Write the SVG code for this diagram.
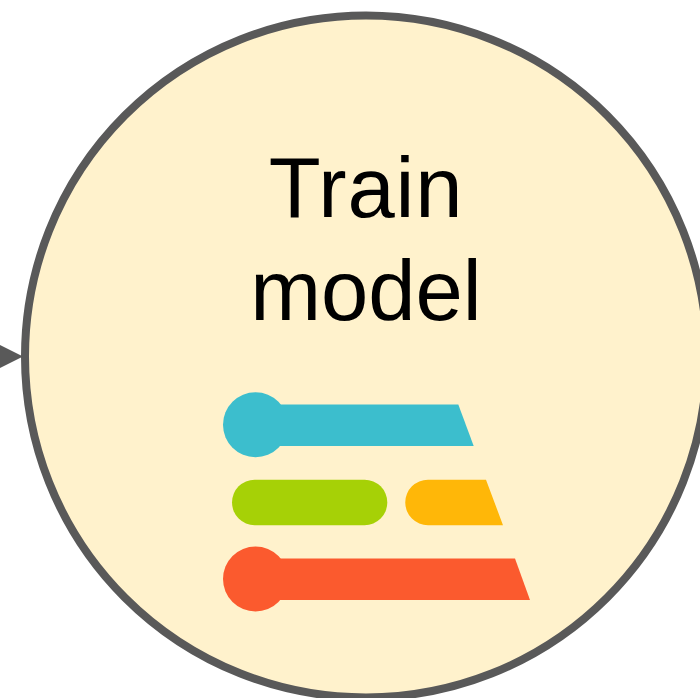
<svg xmlns="http://www.w3.org/2000/svg" width="700" height="698" viewBox="0 0 700 698">
<style>.t{font-family:"Liberation Sans",Arial,sans-serif;font-size:85px;fill:#000;text-anchor:middle}</style>
<rect width="700" height="698" fill="#fff"/>
<g id="connectors"><path d="M0 345L23 356.500L0 368Z" fill="#595959"/></g>
<g id="train-model">
<circle cx="366" cy="356.500" r="341" fill="#fff2cc" stroke="#595959" stroke-width="8"/>
<text class="t" x="366" y="217" letter-spacing="0.800">Train</text>
<text class="t" x="366" y="320">model</text>
</g>
<g id="icon">
<circle cx="255.500" cy="424.700" r="32.500" fill="#3cbecd"/>
<path d="M270 404.500H458.300L473.700 446H270Z" fill="#3cbecd"/>
<rect x="232" y="479.700" width="155.300" height="45.500" rx="22.700" fill="#a6d106"/>
<path d="M428 479.700H486L503 525.200H428A22.700 22.700 0 0 1 428 479.700Z" fill="#ffb708"/>
<circle cx="255.500" cy="579" r="32.500" fill="#fb5a2e"/>
<path d="M270 558.500H515L530 600H270Z" fill="#fb5a2e"/>
</g>
</svg>
